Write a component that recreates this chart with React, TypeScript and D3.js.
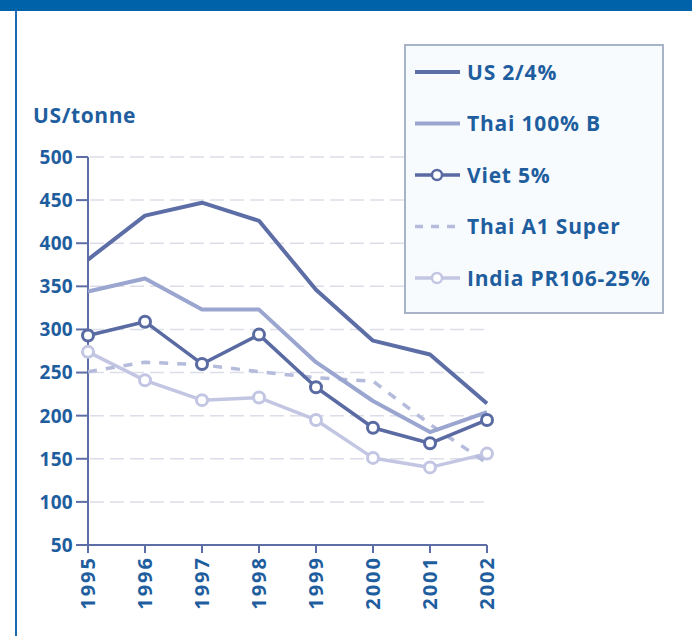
import React from 'react';
import * as d3 from 'd3';

const years = [1995, 1996, 1997, 1998, 1999, 2000, 2001, 2002];
const yTicks = [50, 100, 150, 200, 250, 300, 350, 400, 450, 500];

const us24 = [381, 432, 447, 426, 346, 287, 271, 214];
const thai100B = [344, 359, 323, 323, 262, 217, 181, 204];
const viet5 = [293, 309, 260, 294, 233, 186, 168, 195];
const thaiA1 = [251, 262, 259, 251, 244, 240, 190, 145];
const india = [274, 241, 218, 221, 195, 151, 140, 156];

const TEXT = '#1f5e9e';
const FONT = '"Open Sans", sans-serif';

interface Series {
  name: string;
  values: number[];
  color: string;
  width: number;
  dash?: string;
  markers?: boolean;
}

const series: Series[] = [
  { name: 'India PR106-25%', values: india, color: '#c3c6e3', width: 3.5, markers: true },
  { name: 'Thai A1 Super', values: thaiA1, color: '#b4bbdb', width: 3.5, dash: '9,9' },
  { name: 'Thai 100% B', values: thai100B, color: '#9aa5d0', width: 4 },
  { name: 'US 2/4%', values: us24, color: '#5d6ea6', width: 4 },
  { name: 'Viet 5%', values: viet5, color: '#5a6aa2', width: 3.5, markers: true },
];

const legendOrder = ['US 2/4%', 'Thai 100% B', 'Viet 5%', 'Thai A1 Super', 'India PR106-25%'];

export default function App() {
  const W = 692;
  const H = 636;
  const x = d3.scalePoint<number>().domain(years).range([88, 487]);
  const y = d3.scaleLinear().domain([50, 500]).range([545, 157]);
  const line = d3.line<number>()
    .x((_, i) => x(years[i]) as number)
    .y(d => y(d));

  return (
    <svg width={W} height={H} style={{ position: 'absolute', left: 0, top: 0 }}>
      <rect x={0} y={0} width={W} height={H} fill="#fff" />
      <rect x={0} y={0} width={W} height={11} fill="#0062a8" />
      <line x1={16} x2={16} y1={11} y2={H} stroke="#1a6bb0" strokeWidth={2} />

      {/* gridlines */}
      {yTicks.slice(1).map(t => (
        <line key={'g' + t} x1={90} x2={490} y1={y(t)} y2={y(t)}
          stroke="#dcdde8" strokeWidth={1.5} strokeDasharray="14,6" />
      ))}

      {/* axes */}
      <line x1={88} x2={88} y1={157} y2={545} stroke="#5d6ea6" strokeWidth={2} />
      <line x1={88} x2={487} y1={545} y2={545} stroke="#5d6ea6" strokeWidth={2} />
      {yTicks.map(t => (
        <g key={'y' + t}>
          <line x1={76} x2={88} y1={y(t)} y2={y(t)} stroke="#5d6ea6" strokeWidth={2} />
          <text x={73} y={y(t)} dy="0.36em" textAnchor="end" fill={TEXT}
            fontFamily={FONT} fontWeight={700} fontSize={19} letterSpacing={0.3}>{t}</text>
        </g>
      ))}
      {years.map(yr => (
        <g key={'x' + yr}>
          <line x1={x(yr)} x2={x(yr)} y1={545} y2={553} stroke="#5d6ea6" strokeWidth={2} />
          <text transform={`translate(${(x(yr) as number) + 7},${556}) rotate(-90)`}
            textAnchor="end" fill={TEXT} fontFamily={FONT} fontWeight={700} fontSize={20}
            letterSpacing={2}>{yr}</text>
        </g>
      ))}
      <text x={33} y={123} fill={TEXT} fontFamily={FONT} fontWeight={700} fontSize={21}
        letterSpacing={0.6}>US/tonne</text>

      {/* series */}
      {series.map(s => (
        <g key={s.name}>
          <path d={line(s.values) || ''} fill="none" stroke={s.color} strokeWidth={s.width}
            strokeDasharray={s.dash} strokeLinejoin="round" />
          {s.markers && s.values.map((v, i) => (
            <circle key={i} cx={x(years[i])} cy={y(v)} r={5.5} fill="#fff"
              stroke={s.color} strokeWidth={3} />
          ))}
        </g>
      ))}

      {/* legend */}
      <rect x={405} y={45} width={258} height={268} fill="#f8fbfe" stroke="#a9b3c8" strokeWidth={2} />
      {legendOrder.map((name, i) => {
        const s = series.find(d => d.name === name)!;
        const ly = 72 + i * 51.5;
        return (
          <g key={'l' + name}>
            <line x1={415} x2={460} y1={ly} y2={ly} stroke={s.color} strokeWidth={s.width}
              strokeDasharray={s.dash ? '8,8' : undefined} />
            {s.markers && <circle cx={437} cy={ly} r={5} fill="#fff" stroke={s.color} strokeWidth={2.5} />}
            <text x={467} y={ly} dy="0.36em" fill={TEXT} fontFamily={FONT} fontWeight={700}
              fontSize={21} letterSpacing={0.8}>{name}</text>
          </g>
        );
      })}
    </svg>
  );
}
